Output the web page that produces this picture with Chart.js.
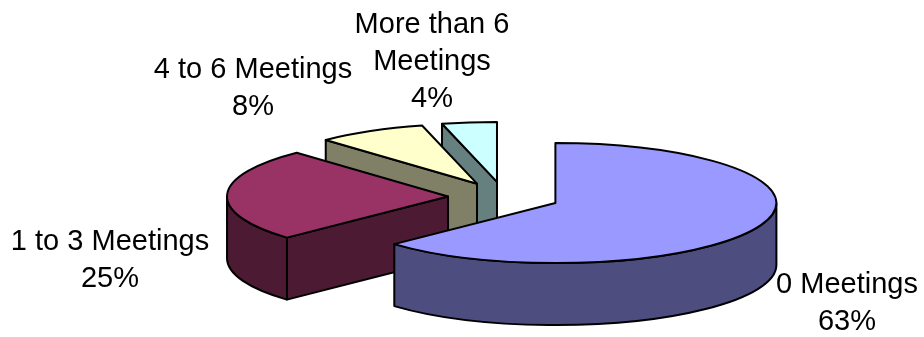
<!DOCTYPE html>
<html>
<head>
<meta charset="utf-8">
<title>Meetings</title>
<style>
  html, body { margin: 0; padding: 0; background: #fff; }
</style>
</head>
<body>
<canvas id="meetingsChart" width="924" height="337"></canvas>
<script src="https://cdn.jsdelivr.net/npm/chart.js"></script>
<script>
  // slice names (array = wrapped over several lines) and their shares in percent
  const categories = ["0 Meetings", "1 to 3 Meetings", "4 to 6 Meetings", ["More than 6", "Meetings"]];
  const shares = [63, 25, 8, 4];

  const topColors = ["#9999ff", "#993366", "#ffffcc", "#ccffff"];
  const sideColors = ["#4d4d80", "#4d1a33", "#808066", "#668080"];

  // where each label block starts (centre x, middle of the first line)
  const labelAnchors = [[847, 283], [110, 240], [253, 68], [432, 23]];

  const TILT = 0.2715;   // how flat the pie is drawn (ry / rx)
  const DEPTH = 62;      // thickness of the pie in px
  const LINE_H = 37;

  const pie3d = {
    id: "pie3d",
    beforeDatasetDraw() {
      return false; // flat arcs are skipped, the 3d version is drawn below
    },
    afterDatasetsDraw(chart) {
      const ctx = chart.ctx;
      const arcs = chart.getDatasetMeta(0).data;

      const slices = arcs.map((arc, i) => {
        const p = arc.getProps(["x", "y", "startAngle", "endAngle", "outerRadius"]);
        const mid = (p.startAngle + p.endAngle) / 2;
        const off = arc.options.offset || 0;
        return {
          i: i,
          r: p.outerRadius,
          a0: p.startAngle,
          a1: p.endAngle,
          mid: mid,
          cx: p.x + Math.cos(mid) * off,
          cy: p.y + Math.sin(mid) * off * TILT,
        };
      });

      // back slices first
      slices.sort((a, b) => Math.sin(a.mid) - Math.sin(b.mid));

      ctx.save();
      ctx.lineWidth = 2;
      ctx.lineJoin = "round";
      ctx.strokeStyle = "#000";

      const px = (s, a) => s.cx + s.r * Math.cos(a);
      const py = (s, a) => s.cy + s.r * Math.sin(a) * TILT;

      function face(s, a) {
        ctx.beginPath();
        ctx.moveTo(s.cx, s.cy);
        ctx.lineTo(px(s, a), py(s, a));
        ctx.lineTo(px(s, a), py(s, a) + DEPTH);
        ctx.lineTo(s.cx, s.cy + DEPTH);
        ctx.closePath();
        ctx.fillStyle = sideColors[s.i];
        ctx.fill();
        ctx.stroke();
      }

      slices.forEach((s) => {
        // cut faces turned towards the viewer
        if (Math.cos(s.a0) < -1e-6) face(s, s.a0);
        if (Math.cos(s.a1) > 1e-6) face(s, s.a1);

        // outer wall, front half only
        const lo = Math.max(s.a0, 0);
        const hi = Math.min(s.a1, Math.PI);
        if (lo < hi) {
          ctx.beginPath();
          ctx.ellipse(s.cx, s.cy, s.r, s.r * TILT, 0, lo, hi);
          ctx.lineTo(px(s, hi), py(s, hi) + DEPTH);
          ctx.ellipse(s.cx, s.cy + DEPTH, s.r, s.r * TILT, 0, hi, lo, true);
          ctx.closePath();
          ctx.fillStyle = sideColors[s.i];
          ctx.fill();
          ctx.stroke();
        }

        // top
        ctx.beginPath();
        ctx.moveTo(s.cx, s.cy);
        ctx.ellipse(s.cx, s.cy, s.r, s.r * TILT, 0, s.a0, s.a1);
        ctx.closePath();
        ctx.fillStyle = topColors[s.i];
        ctx.fill();
        ctx.stroke();
      });

      // data labels
      ctx.fillStyle = "#000";
      ctx.font = '29px "Liberation Sans", Arial, sans-serif';
      ctx.textAlign = "center";
      ctx.textBaseline = "alphabetic";
      chart.data.labels.forEach((lab, i) => {
        const lines = [].concat(lab, shares[i] + "%");
        const [x, y] = labelAnchors[i];
        lines.forEach((t, k) => ctx.fillText(t, x, y + 10 + k * LINE_H));
      });
      ctx.restore();
    },
  };

  new Chart(document.getElementById("meetingsChart"), {
    type: "pie",
    data: {
      labels: categories,
      datasets: [
        {
          data: shares,
          backgroundColor: topColors,
          borderColor: "#000",
          offset: 56,
        },
      ],
    },
    options: {
      responsive: false,
      animation: false,
      radius: 221,
      layout: { padding: { left: 84, top: 57 } },
      plugins: {
        legend: { display: false },
        tooltip: { enabled: false },
      },
    },
    plugins: [pie3d],
  });
</script>
</body>
</html>
